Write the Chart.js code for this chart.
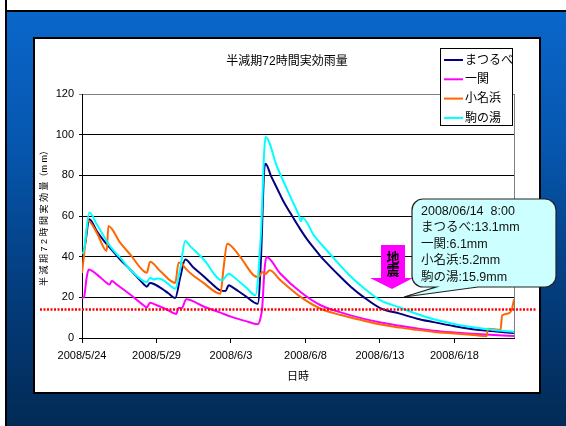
<!DOCTYPE html>
<html lang="ja">
<head>
<meta charset="utf-8">
<script src="https://cdn.jsdelivr.net/npm/chart.js@4.4.1/dist/chart.umd.min.js"></script>
<style>
  html, body { margin: 0; padding: 0; }
  body {
    width: 566px; height: 426px; position: relative; overflow: hidden;
    background: linear-gradient(#0a68cc 0%, #0656ad 35%, #043f82 65%, #022a55 100%);
  }
  .strip-top { position: absolute; left: 0; top: 0; width: 566px; height: 10px; background: #fff; border-bottom: 2px solid #000; }
  .strip-left { position: absolute; left: 0; top: 0; width: 5px; height: 426px; background: #fff; border-right: 2px solid #000; }
  #panel { position: absolute; left: 33px; top: 37px; width: 508px; height: 357px; background: #fff; border: 2px solid #000; box-sizing: border-box; }
  #chart { position: absolute; left: 0; top: 0; }
</style>
</head>
<body>
<div class="strip-top"></div>
<div class="strip-left"></div>
<div id="panel"></div>
<canvas id="chart" width="566" height="426"></canvas>
<script>
// Ejes (x = días desde 2008/5/24 0:00)
const dateLabels = ['2008/5/24', '2008/5/29', '2008/6/3', '2008/6/8', '2008/6/13', '2008/6/18'];
const seriesNames = ['まつるべ', '一関', '小名浜', '駒の湯'];
const chartTitle = '半減期72時間実効雨量';
const yTitle = '半 減 期 7 2 時 間 実 効 量（m m）';
const xTitle = '日時';

// まつるべ
const matsurubeT = [0, 0.12, 0.49, 1.0, 1.5, 1.88, 2.56, 3.23, 4.13, 4.35, 4.57, 4.9, 5.36, 5.8, 6.26, 6.6, 6.93, 7.5, 8.16, 8.7, 9.29, 9.63, 9.85, 10.07, 10.5, 11.0, 11.8, 12.0, 12.23, 12.32, 12.7, 13.1, 13.5, 14.0, 14.67, 15.1, 15.57, 16.0, 16.47, 17.36, 18.0, 18.93, 20.05, 21.33, 22.5, 23.6, 25.0, 26.0, 27.5, 29.0];
const matsurubeV = [44.5, 43.5, 58.4, 52.5, 47.5, 44.4, 38.6, 33.7, 26.6, 25.2, 27.1, 26.3, 24.3, 22.0, 19.7, 30.0, 38.6, 34.5, 30.4, 26.8, 23.4, 23.1, 25.9, 25.1, 23.0, 20.5, 16.9, 36.6, 82.5, 85.7, 79.5, 73.5, 67.5, 61.3, 53.3, 48.6, 44.2, 40.3, 36.6, 30.0, 25.5, 20.0, 14.6, 12.0, 9.5, 7.8, 5.8, 4.6, 3.4, 2.4];

// 一関
const ichinosekiT = [0, 0.13, 0.31, 0.45, 0.99, 1.66, 1.84, 2.0, 2.33, 3.23, 4.13, 4.35, 4.57, 5.02, 5.7, 6.32, 6.48, 6.7, 7.0, 8.16, 9.29, 10.0, 11.0, 11.8, 12.0, 12.1, 12.25, 12.38, 13.32, 14.67, 16.02, 17.36, 18.93, 20.05, 21.33, 22.5, 23.6, 25.0, 26.8, 29.0];
const ichinosekiV = [19.7, 20.0, 29.6, 33.7, 31.3, 27.1, 26.3, 28.0, 26.3, 21.4, 16.1, 15.1, 17.3, 16.1, 14.0, 11.8, 14.8, 14.8, 19.0, 15.5, 12.5, 10.5, 8.3, 6.8, 10.3, 15.2, 33.3, 39.8, 31.6, 22.6, 16.1, 12.6, 9.4, 7.6, 6.0, 4.7, 3.6, 2.7, 1.8, 1.0];

// 小名浜
const onahamaT = [0, 0.13, 0.43, 0.99, 1.66, 1.77, 2.56, 3.23, 4.13, 4.35, 4.57, 5.25, 6.26, 6.48, 6.7, 6.82, 8.16, 9.29, 9.51, 9.74, 10.63, 11.53, 11.87, 12.09, 12.3, 12.6, 13.32, 14.67, 16.02, 17.36, 18.93, 20.05, 21.33, 22.5, 23.64, 25.0, 26.5, 27.15, 27.25, 28.1, 28.2, 28.6, 28.85, 29.0];
const onahamaV = [32.0, 40.3, 57.6, 51.8, 42.8, 55.1, 46.9, 41.1, 32.9, 32.1, 37.5, 32.9, 27.1, 37.0, 37.0, 35.4, 27.1, 21.8, 34.9, 46.4, 39.8, 30.8, 30.0, 32.5, 31.5, 33.3, 28.4, 20.2, 14.4, 11.3, 8.5, 6.6, 5.1, 4.0, 3.0, 2.2, 1.3, 0.9, 4.5, 4.0, 11.1, 12.0, 14.0, 19.0];

// 駒の湯
const komanoyuT = [0, 0.12, 0.49, 0.99, 1.88, 2.56, 3.23, 4.13, 4.35, 4.57, 4.8, 5.1, 5.36, 5.7, 6.26, 6.6, 6.93, 7.26, 8.16, 9.4, 9.85, 10.18, 11.0, 11.64, 12.0, 12.32, 13.1, 14.0, 14.55, 14.7, 14.8, 15.57, 16.47, 17.36, 18.0, 18.93, 20.05, 21.33, 22.5, 23.6, 25.0, 26.0, 27.5, 29.0];
const komanoyuV = [41.4, 42.8, 61.7, 55.9, 45.2, 39.5, 33.7, 28.0, 27.5, 29.6, 28.8, 29.3, 28.8, 27.1, 24.3, 34.5, 47.7, 45.2, 38.7, 28.4, 31.6, 30.0, 25.0, 21.0, 49.7, 98.9, 84.1, 69.3, 60.5, 57.5, 59.2, 50.5, 42.8, 35.5, 30.5, 24.5, 18.5, 15.0, 11.8, 9.2, 6.9, 5.5, 4.0, 3.0];

// 基準線 y 14mm と注記
const thresholdValue = 14;
const quakeText = ['地', '震'];
const calloutLines = ['2008/06/14  8:00', 'まつるべ:13.1mm', '一関:6.1mm', '小名浜:5.2mm', '駒の湯:15.9mm'];

const family = "'Liberation Sans', 'Noto Sans CJK JP', sans-serif";
const tickFont = { family, size: 11 };

const toPoints = (t, v) => t.map((x, i) => ({ x, y: v[i] }));

function roundedCallout(ctx, x, y, w, h, r, tail) {
  const b = y + h;
  ctx.beginPath();
  ctx.moveTo(x + r, y);
  ctx.arcTo(x + w, y, x + w, b, r);
  ctx.arcTo(x + w, b, x, b, r);
  ctx.lineTo(tail.b2, b);
  ctx.lineTo(tail.x, tail.y);
  ctx.lineTo(tail.b1, b);
  ctx.arcTo(x, b, x, y, r);
  ctx.arcTo(x, y, x + w, y, r);
  ctx.closePath();
}

const decorations = {
  id: 'decorations',
  beforeDatasetsDraw(chart) {
    const { ctx, chartArea } = chart;
    ctx.save();
    ctx.strokeStyle = '#808080';
    ctx.lineWidth = 1;
    ctx.beginPath();
    ctx.moveTo(chartArea.right + 0.5, chartArea.top);
    ctx.lineTo(chartArea.right + 0.5, chartArea.bottom);
    ctx.stroke();
    ctx.restore();
  },
  afterDatasetsDraw(chart) {
    const { ctx } = chart;
    const y = chart.scales.y.getPixelForValue(thresholdValue);
    ctx.save();
    ctx.strokeStyle = '#ff0000';
    ctx.lineWidth = 2.5;
    ctx.setLineDash([2, 1.5]);
    ctx.beginPath();
    ctx.moveTo(40, y);
    ctx.lineTo(537, y);
    ctx.stroke();
    ctx.restore();
  },
  afterDraw(chart) {
    const { ctx } = chart;
    ctx.save();

    // título
    ctx.fillStyle = '#000';
    ctx.font = `12px ${family}`;
    ctx.textAlign = 'center';
    ctx.textBaseline = 'middle';
    ctx.fillText(chartTitle, 287, 62);

    // leyenda
    ctx.fillStyle = '#fff';
    ctx.fillRect(440, 48, 73, 78);
    ctx.strokeStyle = '#000';
    ctx.lineWidth = 1;
    ctx.strokeRect(440.5, 48.5, 72, 77);
    ctx.font = `12px ${family}`;
    ctx.textAlign = 'left';
    chart.data.datasets.forEach((ds, i) => {
      const ly = 60 + i * 19.3;
      ctx.strokeStyle = ds.borderColor;
      ctx.lineWidth = 2;
      ctx.beginPath();
      ctx.moveTo(444, ly);
      ctx.lineTo(463, ly);
      ctx.stroke();
      ctx.fillStyle = '#000';
      ctx.fillText(ds.label, 465, ly + 0.5);
    });

    // flecha 地震
    ctx.fillStyle = '#ff00ff';
    ctx.beginPath();
    ctx.moveTo(381, 245);
    ctx.lineTo(405, 245);
    ctx.lineTo(405, 278);
    ctx.lineTo(413, 278);
    ctx.lineTo(392, 289);
    ctx.lineTo(370, 278);
    ctx.lineTo(381, 278);
    ctx.closePath();
    ctx.fill();
    ctx.fillStyle = '#000';
    ctx.font = `bold 13px ${family}`;
    ctx.textAlign = 'center';
    ctx.fillText(quakeText[0], 393, 258);
    ctx.fillText(quakeText[1], 393, 271);

    // globo con valores
    roundedCallout(ctx, 412, 199, 144, 88, 11, { x: 404, y: 297, b1: 436, b2: 478 });
    ctx.fillStyle = '#ccffff';
    ctx.fill();
    ctx.strokeStyle = '#222';
    ctx.lineWidth = 1.2;
    ctx.stroke();
    ctx.fillStyle = '#111';
    ctx.font = `12.5px ${family}`;
    ctx.textAlign = 'left';
    calloutLines.forEach((line, i) => ctx.fillText(line, 421, 211.5 + i * 16.5));

    ctx.restore();
  }
};

new Chart(document.getElementById('chart'), {
  type: 'line',
  data: {
    datasets: [
      { label: seriesNames[0], data: toPoints(matsurubeT, matsurubeV), borderColor: '#000080', order: 3 },
      { label: seriesNames[1], data: toPoints(ichinosekiT, ichinosekiV), borderColor: '#ff00ff', order: 2 },
      { label: seriesNames[2], data: toPoints(onahamaT, onahamaV), borderColor: '#ff6600', order: 1 },
      { label: seriesNames[3], data: toPoints(komanoyuT, komanoyuV), borderColor: '#00ffff', order: 0 }
    ]
  },
  options: {
    responsive: false,
    animation: false,
    layout: { padding: { left: 34, right: 52, top: 94, bottom: 34 } },
    elements: {
      point: { radius: 0 },
      line: { borderWidth: 2, cubicInterpolationMode: 'monotone', fill: false }
    },
    plugins: { legend: { display: false }, title: { display: false }, tooltip: { enabled: false } },
    scales: {
      x: {
        type: 'linear', min: 0, max: 29,
        afterBuildTicks: s => { s.ticks = dateLabels.map((_, i) => ({ value: i * 5 })); },
        afterFit: s => { s.height = 54; },
        ticks: { callback: (v, i) => dateLabels[i], maxRotation: 0, autoSkip: false, padding: 6, color: '#000', font: tickFont },
        grid: { drawOnChartArea: false, tickLength: 5, color: '#000' },
        border: { color: '#000' },
        title: { display: true, text: xTitle, color: '#000', font: { family, size: 11, lineHeight: 2 } }
      },
      y: {
        min: 0, max: 120,
        afterFit: s => { s.width = 48; },
        ticks: { stepSize: 20, padding: 5, color: '#000', font: tickFont },
        grid: { color: c => (c.tick && c.tick.value === 120 ? '#808080' : '#000'), tickLength: 3 },
        border: { color: '#000' },
        title: { display: true, text: yTitle, color: '#000', font: { family, size: 9, lineHeight: 1.55 } }
      }
    }
  },
  plugins: [decorations]
});
</script>
</body>
</html>
